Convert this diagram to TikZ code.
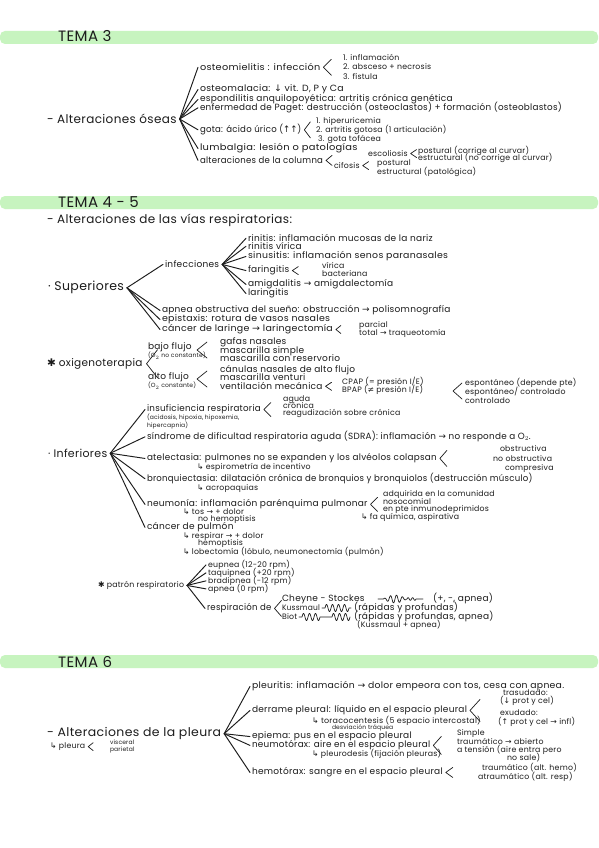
\documentclass[tikz,border=0pt]{standalone}
\usepackage{fontspec}
\setmainfont{Poppins}[LetterSpace=3]
\newfontfamily\symf{DejaVu Sans}
\usetikzlibrary{backgrounds}
\definecolor{hl}{RGB}{199,244,191}
\definecolor{ink}{RGB}{28,28,28}
\newcommand{\myra}{{\symf →}}
\newcommand{\myup}{{\symf ↑}}
\newcommand{\mydn}{{\symf ↓}}
\newcommand{\myhk}{{\symf ↳}}
\newcommand{\myneq}{{\symf ≠}}
\newcommand{\myast}{{\symf ✱}}
\newcommand{\sx}[2]{\scalebox{#1}[1]{#2}}
\newcommand{\angb}[4][3pt]{\draw[brk] ([xshift=#1]#2.east) ++(#3,-#4) -- ([xshift=#1]#2.east) -- ++(#3,#4);}
\newcommand{\angx}[4]{\draw[brk] ({#1+#3},{#2-#4}) -- (#1,#2) -- ({#1+#3},{#2+#4});}
\newcommand{\fanit}[2]{\foreach \n in {#2} {\draw[fan] ([xshift=3pt]#1.east) -- ([xshift=-2pt]\n.west);}}
\tikzset{
 base/.style={anchor=base west, inner sep=0pt, outer sep=0pt, text=ink},
 ta/.style={base, font=\fontsize{9}{10}\selectfont, yshift=-2.8pt},
 tb/.style={base, font=\fontsize{7.8}{9}\selectfont, yshift=-2.5pt},
 tc/.style={base, font=\fontsize{6}{7}\selectfont, yshift=-1.9pt},
 tsec/.style={base, font=\fontsize{10.5}{12}\selectfont, yshift=-3.3pt},
 th/.style={base, font=\fontsize{12}{13}\selectfont, yshift=-3.7pt},
 tt/.style={base, font=\fontsize{15}{16}\selectfont, yshift=-5pt},
 fan/.style={draw=ink, line width=0.95pt},
 brk/.style={draw=ink, line width=0.7pt, line join=round},
 bar/.style={fill=hl, rounded corners=5pt},
 wave/.style={draw=ink, line width=0.7pt, line join=round},
}
\begin{document}
\begin{tikzpicture}[x=1pt, y=-1pt, line cap=round]
\useasboundingbox (0,0) rectangle (599,848);
\fill[white] (0,0) rectangle (599,848);
% bars
\fill[bar] (0,31) rectangle (598,44);
\fill[bar] (0,196) rectangle (598,209);
\fill[bar] (0,655) rectangle (598,668);

% ================= TEMA 3
\node[tt] (t3) at (58,37) {TEMA 3};
\node[th] (oseas) at (47,120) {- Alteraciones óseas};
\node[ta] (ost) at (200,68) {\sx{1.08}{osteomielitis : infección}};
\node[tb] (ost1) at (343,58) {1. inflamación};
\node[tb] (ost2) at (343,67) {2. absceso + necrosis};
\node[tb] (ost3) at (343,77) {3. fístula};
\angb{ost}{8}{8}
\node[ta] (osm) at (200,89) {\sx{1.04}{osteomalacia: \mydn\ vit. D, P y Ca}};
\node[ta] (esp) at (200,99) {espondilitis anquilopoyética: artritis crónica genética};
\node[ta] (pag) at (200,108) {\sx{0.98}{enfermedad de Paget: destrucción (osteoclastos) + formación (osteoblastos)}};
\node[ta] (gota) at (200,130) {\sx{0.95}{gota: ácido úrico (\myup\myup)}};
\angb{gota}{6}{8}
\node[tb] (g1) at (316,121) {1. hiperuricemia};
\node[tb] (g2) at (316,130) {2. artritis gotosa (1 articulación)};
\node[tb] (g3) at (318,139) {3. gota tofácea};
\node[ta] (lum) at (200,148) {\sx{1.1}{lumbalgia: lesión o patologías}};
\node[ta] (col) at (200,161) {\sx{0.95}{alteraciones de la columna}};
\angb{col}{6}{5}
\node[tb] (esc) at (368,154) {escoliosis};
\angb{esc}{6}{4}
\node[tb] (escP) at (418,151) {postural (corrige al curvar)};
\node[tb] (escE) at (418,158) {estructural (no corrige al curvar)};
\node[tb] (cif) at (334,166) {cifosis};
\angb{cif}{6}{4}
\node[tb] (cifP) at (377,163) {postural};
\node[tb] (cifE) at (377,172) {estructural (patológica)};
\fanit{oseas}{ost,osm,esp,pag,gota,lum,col}

% ================= TEMA 4-5
\node[tt] (t45) at (58,202) {TEMA 4 - 5};
\node[th] (vias) at (47,220) {- Alteraciones de las vías respiratorias:};
\node[base, font=\fontsize{12.5}{14}\selectfont, yshift=-3.9pt] (sup) at (48,287) {·\ Superiores};
\node[ta] (infc) at (165,265) {infecciones};
\node[ta] (rin1) at (248,239) {rinitis: inflamación mucosas de la nariz};
\node[ta] (rin2) at (248,247) {rinitis vírica};
\node[ta] (sin) at (248,256) {\sx{1.04}{sinusitis: inflamación senos paranasales}};
\node[ta] (far) at (248,270) {faringitis};
\angb{far}{6}{4}
\node[tb] (farV) at (322,266) {vírica};
\node[tb] (farB) at (322,274) {bacteriana};
\node[ta] (amig) at (248,284) {amigdalitis \myra\ amigdalectomía};
\node[ta] (lar) at (248,293) {laringitis};
\fanit{infc}{rin1,rin2,sin,far,amig,lar}
\node[ta] (apn) at (162,310) {apnea obstructiva del sueño: obstrucción \myra\ polisomnografía};
\node[ta] (epi) at (162,319) {\sx{1.05}{epistaxis: rotura de vasos nasales}};
\node[ta] (cal) at (162,329) {\sx{1.05}{cáncer de laringe \myra\ laringectomía}};
\angb{cal}{5}{4}
\node[tb] (calP) at (359,325) {parcial};
\node[tb] (calT) at (359,333) {total \myra\ traqueotomía};
\fanit{sup}{infc,apn,epi,cal}

% oxigenoterapia
\node[tsec] (oxi) at (47,363) {\myast\ oxigenoterapia};
\angb[4pt]{oxi}{11}{14}
\node[ta] (bajo) at (148,347) {bajo flujo};
\node[tc] (bajoS) at (148,356) {(O$_2$ no constante)};
\node[ta] (alto) at (148,377) {alto flujo};
\node[tc] (altoS) at (148,386) {(O$_2$ constante)};
\angx{197}{350}{10}{8}
\node[ta] (gaf) at (220,342) {gafas nasales};
\node[ta] (masS) at (220,351) {mascarilla simple};
\node[ta] (masR) at (220,359) {mascarilla con reservorio};
\angx{197}{379}{10}{8}
\node[ta] (can) at (220,370) {cánulas nasales de alto flujo};
\node[ta] (masV) at (220,378) {mascarilla venturi};
\node[ta] (vent) at (220,387) {ventilación mecánica};
\angb{vent}{6}{4}
\node[tb] (cpap) at (342,382) {CPAP (= presión I/E)};
\node[tb] (bpap) at (342,390) {BPAP (\myneq\ presión I/E)};
\angx{453}{391}{9}{8}
\node[tb] (espD) at (465,383) {espontáneo (depende pte)};
\node[tb] (espC) at (465,392) {espontáneo/ controlado};
\node[tb] (contr) at (465,401) {controlado};

% inferiores
\node[ta] (insu) at (147,409) {\sx{0.97}{insuficiencia respiratoria}};
\angb{insu}{7}{7}
\node[tb] (ag) at (283,399) {aguda};
\node[tb] (cr) at (283,406) {crónica};
\node[tb] (reag) at (283,413) {reagudización sobre crónica};
\node[tc] (insuS) at (147,418) {(acidosis, hipoxia, hipoxemia,};
\node[tc] (insuT) at (147,426) {hipercapnia)};
\node[ta] (sdra) at (147,437) {\sx{0.98}{síndrome de dificultad respiratoria aguda (SDRA): inflamación \myra\ no responde a O$_2$.}};
\node[base, font=\fontsize{11}{12}\selectfont, yshift=-3.4pt] (infe) at (48,454) {·\ Inferiores};
\node[ta] (ate) at (147,458) {\sx{0.98}{atelectasia: pulmones no se expanden y los alvéolos colapsan}};
\angb{ate}{7}{8}
\node[tb] (obs) at (500,449) {obstructiva};
\node[tb] (nobs) at (493,459) {no obstructiva};
\node[tb] (comp) at (505,468) {compresiva};
\node[tb] (ateS) at (197,467) {\myhk\ espirometría de incentivo};
\node[ta] (bro) at (147,479) {\sx{0.95}{bronquiectasia: dilatación crónica de bronquios y bronquiolos (destrucción músculo)}};
\node[tb] (broS) at (197,488) {\myhk\ acropaquias};
\node[ta] (neu) at (147,504) {neumonía: inflamación parénquima pulmonar};
\angb{neu}{7}{7}
\node[tb] (adq) at (383,494) {adquirida en la comunidad};
\node[tb] (noso) at (383,502) {nosocomial};
\node[tb] (inm) at (383,509) {en pte inmunodeprimidos};
\node[tb] (fa) at (361,517) {\myhk\ fa química, aspirativa};
\node[tb] (tos) at (183,512) {\myhk\ tos \myra\ + dolor};
\node[tb] (noh) at (198,519) {no hemoptisis};
\node[ta] (cap) at (147,527) {cáncer de pulmón};
\node[tb] (resp) at (183,536) {\myhk\ respirar \myra\ + dolor};
\node[tb] (hem) at (198,543) {hemoptisis};
\node[tb] (lob) at (183,552) {\myhk\ lobectomía (lóbulo, neumonectomía (pulmón)};
\fanit{infe}{insu,sdra,ate,bro,neu,cap}

% patron respiratorio
\node[tb] (pat) at (98,585) {\myast\ patrón respiratorio};
\node[tb] (eup) at (208,565) {eupnea (12-20 rpm)};
\node[tb] (taq) at (208,573) {taquipnea (+20 rpm)};
\node[tb] (bra) at (208,581) {bradipnea (-12 rpm)};
\node[tb] (apne) at (208,589) {apnea (0 rpm)};
\node[ta] (resd) at (207,608) {\sx{0.95}{respiración de}};
\fanit{pat}{eup,taq,bra,apne,resd}
\angb{resd}{7}{8}
\node[ta] (che) at (282,599) {Cheyne - Stockes};
\node[tb] (kus) at (282,608) {\sx{0.96}{Kussmaul}};
\node[tb] (bio) at (282,617) {Biot};
\node[ta] (chep) at (433,599) {(+, -, apnea)};
\node[ta] (kusp) at (354,608) {(rápidas y profundas)};
\node[ta] (biop) at (354,617) {(rápidas y profundas, apnea)};
\node[tb] (bioq) at (357,625) {(Kussmaul + apnea)};
% waves
\draw[wave] (378,599) -- (383,599) plot[domain=0:24,samples=97] ({383+\x},{599-4*sin(\x*180/24)*sin(\x*60)}) -- (407,599) plot[domain=0:9,samples=37] ({407+\x},{599-1.3*sin(\x*80)}) -- (423,599);
\draw[wave] (322,608) -- (325,608) plot[domain=0:24,samples=97] ({325+\x},{608-3.6*sin(\x*60)}) -- (351,608);
\draw[wave] (299,617) -- (302,617) plot[domain=0:18,samples=73] ({302+\x},{617-3.6*sin(\x*60)}) -- (332,617) plot[domain=0:18,samples=73] ({332+\x},{617-3.6*sin(\x*60)});

% ================= TEMA 6
\node[tt] (t6) at (58,662) {TEMA 6};
\node[th] (pleu) at (47,733) {\sx{1.04}{- Alteraciones de la pleura}};
\node[tb] (pleS) at (50,746) {\myhk\ pleura};
\angb{pleS}{5}{4}
\node[tc] (visc) at (110,743) {visceral};
\node[tc] (pari) at (110,750) {parietal};
\node[ta] (plr) at (252,686) {\sx{1.03}{pleuritis: inflamación \myra\ dolor empeora con tos, cesa con apnea.}};
\node[ta] (der) at (252,710) {derrame pleural: líquido en el espacio pleural};
\angb{der}{10}{11}
\node[tb] (tras) at (503,693) {trasudado:};
\node[tb] (trasP) at (500,701) {(\mydn\ prot y cel)};
\node[tb] (exu) at (500,713) {exudado:};
\node[tb] (exuP) at (498,722) {(\myup\ prot y cel \myra\ infl)};
\node[tb] (tor) at (312,721) {\sx{1.02}{\myhk\ toracocentesis (5 espacio intercostal)}};
\node[tc] (desv) at (332,728) {desviación tráquea};
\node[ta] (epi6) at (252,736) {epiema: pus en el espacio pleural};
\node[ta] (neu6) at (252,745) {\sx{0.98}{neumotórax: aire en el espacio pleural}};
\angb{neu6}{8}{9}
\node[tb] (simp) at (457,733) {Simple};
\node[tb] (trau) at (457,742) {traumático \myra\ abierto};
\node[tb] (tens) at (457,750) {a tensión (aire entra pero};
\node[tb] (nosa) at (507,758) {no sale)};
\node[tb] (pld) at (312,754) {\myhk\ pleurodesis (fijación pleuras)};
\node[ta] (hemo) at (252,772) {hemotórax: sangre en el espacio pleural};
\angb{hemo}{7}{5}
\node[tb] (trA) at (482,768) {traumático (alt. hemo)};
\node[tb] (atr) at (478,777) {atraumático (alt. resp)};
\fanit{pleu}{plr,der,epi6,neu6,hemo}

% highlights
\begin{pgfonlayer}{background}
\fill[hl, rounded corners=3pt] ([xshift=-2pt,yshift=-1pt]oseas.south west) rectangle ([xshift=2pt,yshift=1pt]oseas.east);
\fill[hl, rounded corners=3pt] ([xshift=-2pt,yshift=-1pt]vias.south west) rectangle ([xshift=2pt,yshift=1pt]vias.east);
\fill[hl, rounded corners=3pt] ([xshift=-2pt,yshift=-1pt]pleu.south west) rectangle ([xshift=2pt,yshift=1pt]pleu.east);
\end{pgfonlayer}
\end{tikzpicture}
\end{document}
